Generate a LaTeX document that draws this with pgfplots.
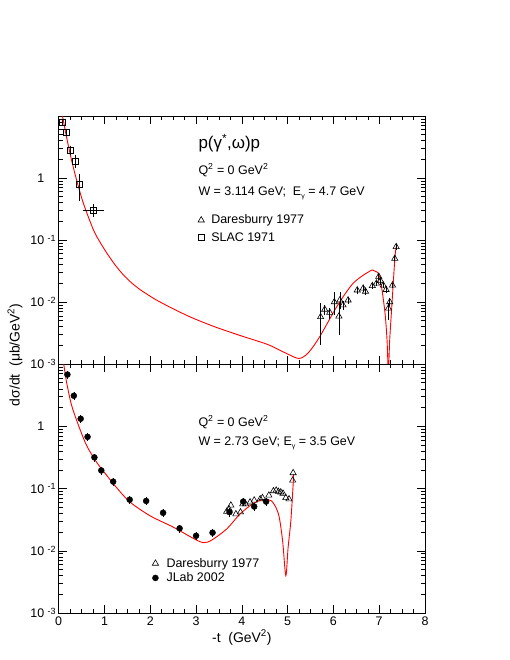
\documentclass[border=0pt]{standalone}
\usepackage{pgfplots}
\pgfplotsset{compat=1.18}
\usepackage{pgfplotstable}
\usepackage{fontspec}
\setmainfont{Liberation Sans}

% ROOT-like exponent labels: "10" with a raised exponent hanging to the right
\newcommand\tp[1]{10\rlap{\hspace{3.5bp}\raisebox{0.55ex}{\fontsize{9}{10}\selectfont #1}}\hspace{3bp}}

\pgfplotstableread{
x y ep em
5.72 0.00575 0.0040 0.0037
5.81 0.00759 0.0015 0.0015
5.92 0.00676 0.0012 0.0015
6.02 0.0100 0.0045 0.0038
6.12 0.00589 0.0036 0.0029
6.14 0.0107 0.0038 0.0031
6.21 0.0089 0.0015 0.0015
6.32 0.0107 0.0015 0.0015
6.52 0.0155 0.002 0.002
6.65 0.0166 0.002 0.002
6.70 0.0148 0.002 0.002
6.85 0.0182 0.002 0.002
6.94 0.0200 0.002 0.002
6.99 0.0257 0.003 0.003
7.03 0.0219 0.003 0.003
7.09 0.0186 0.002 0.002
7.15 0.0158 0.002 0.002
7.20 0.0079 0.0016 0.0028
7.23 0.0100 0.0015 0.0015
7.29 0.0186 0.002 0.002
7.34 0.0501 0.005 0.005
7.37 0.0776 0.008 0.008
}\daresTop

\pgfplotstableread{
x y ex ep em
0.08 7.9 0 0.8 0.8
0.16 5.4 0 0.6 0.6
0.26 2.75 0 0.56 0.41
0.36 1.88 0 0.45 0.45
0.46 0.79 0 0.37 0.37
0.76 0.297 0.235 0.083 0.063
}\slac

\pgfplotstableread{
x y
0.08 10.0
0.10 8.61
0.17 4.63
0.28 1.95
0.39 0.933
0.54 0.389
0.76 0.145
0.90 0.093
1.05 0.0617
1.23 0.0398
1.41 0.0275
1.59 0.0204
1.78 0.0158
1.92 0.0135
2.14 0.0107
2.50 0.00776
2.87 0.00575
3.23 0.00447
3.52 0.00372
4.00 0.00282
4.30 0.00240
4.61 0.00200
5.00 0.00145
5.25 0.00123
5.45 0.00151
5.70 0.00275
6.07 0.00832
6.43 0.0200
6.80 0.0316
6.90 0.0316
7.01 0.0257
7.12 0.00741
7.17 0.00251
7.20 0.00079
7.23 0.00251
7.27 0.00741
7.34 0.0479
7.37 0.0776
}\curveTop

\pgfplotstableread{
x y
3.67 0.0427
3.72 0.0468
3.76 0.0537
3.87 0.0389
3.97 0.0417
4.02 0.0562
4.08 0.0562
4.18 0.0603
4.27 0.0646
4.40 0.0676
4.45 0.0708
4.59 0.0776
4.69 0.0912
4.75 0.0933
4.80 0.0891
4.85 0.0871
4.90 0.0832
4.96 0.0708
5.03 0.0676
5.11 0.135
5.12 0.178
}\daresBot

\pgfplotstableread{
x y ey
0.19 6.76 1.0
0.33 3.09 0.45
0.48 1.32 0.2
0.63 0.676 0.1
0.78 0.316 0.047
0.93 0.195 0.029
1.19 0.129 0.019
1.55 0.0661 0.010
1.91 0.0631 0.0095
2.28 0.0407 0.0061
2.64 0.0229 0.0034
3.00 0.0174 0.0026
3.36 0.0195 0.0029
3.73 0.0417 0.0063
4.03 0.0617 0.0093
4.27 0.0513 0.0077
4.53 0.0617 0.0093
}\jlab

\pgfplotstableread{
x y
0.11 10.0
0.17 5.19
0.28 2.19
0.43 1.047
0.61 0.490
0.83 0.263
1.05 0.162
1.27 0.102
1.56 0.0603
2.00 0.0363
2.50 0.0240
2.94 0.0158
3.16 0.0135
3.34 0.0148
3.67 0.0224
3.96 0.0389
4.25 0.0575
4.47 0.0661
4.65 0.0631
4.80 0.0389
4.89 0.0145
4.96 0.00398
5.01 0.0112
5.07 0.0302
5.12 0.115
5.13 0.17
}\curveBot

\begin{document}
\begin{tikzpicture}
\path[use as bounding box] (0,0) rectangle (510bp,660bp);

% upper panel
\begin{axis}[
  at={(58.7bp,296bp)}, anchor=south west,
  scale only axis, width=366.3bp, height=248bp,
  xmin=0, xmax=8, ymode=log, ymin=1e-3, ymax=10,
  xtick={0,...,8}, minor x tick num=3, xticklabels={},
  ytick={1e-3,1e-2,1e-1,1,10},
  yticklabels={\tp{-3},\tp{-2},\tp{-1},1,{}},
  yticklabel style={xshift=-11bp},
  major tick length=8bp, minor tick length=4bp,
  tick style={black, line width=0.5pt},
  axis line style={line width=0.7pt},
  tick label style={font=\fontsize{12.5}{14}\selectfont},
  legend cell align=left,
  legend style={at={(0.38,0.61)}, anchor=north west, draw=none, fill=none,
    font=\fontsize{12.5}{14}\selectfont, nodes={font=\fontsize{12.5}{14}\selectfont},
    row sep=3bp, column sep=5bp, inner sep=0pt}]
\addplot[red, line width=0.9pt, no marks, smooth, tension=0.5, forget plot] table {\curveTop};
\addplot[only marks, mark=triangle, mark size=3.6bp, black, mark options={line width=0.6pt, fill=white},
  error bars/.cd, y dir=both, y explicit, error mark=none,
  error bar style={black, line width=0.6pt}]
  table[x=x, y=y, y error plus=ep, y error minus=em] {\daresTop};
\addlegendentry{Daresburry 1977}
\addplot[only marks, mark=square, mark size=3bp, black, mark options={line width=0.6pt, fill=white},
  error bars/.cd, y dir=both, y explicit, x dir=both, x explicit, error mark=none,
  error bar style={black, line width=0.6pt}]
  table[x=x, y=y, x error=ex, y error plus=ep, y error minus=em] {\slac};
\addlegendentry{SLAC 1971}
\end{axis}

% lower panel
\begin{axis}[
  at={(58.7bp,47bp)}, anchor=south west,
  scale only axis, width=366.3bp, height=249bp,
  xmin=0, xmax=8, ymode=log, ymin=1e-3, ymax=10,
  xtick={0,...,8}, minor x tick num=3,
  ytick={1e-3,1e-2,1e-1,1,10},
  yticklabels={\tp{-3},\tp{-2},\tp{-1},1,{}},
  yticklabel style={xshift=-11bp},
  major tick length=8bp, minor tick length=4bp,
  tick style={black, line width=0.5pt},
  axis line style={line width=0.7pt},
  tick label style={font=\fontsize{12.5}{14}\selectfont},
  /pgf/number format/assume math mode=true,
  xlabel={-t\ \ (GeV\textsuperscript{2})},
  xlabel style={font=\fontsize{14}{16}\selectfont, yshift=2bp},
  legend cell align=left,
  legend style={at={(0.255,0.229)}, anchor=north west, draw=none, fill=none,
    font=\fontsize{12.5}{14}\selectfont, nodes={font=\fontsize{12.5}{14}\selectfont},
    row sep=0bp, column sep=6bp, inner sep=0pt}]
\addplot[red, line width=0.9pt, no marks, smooth, tension=0.5, forget plot] table {\curveBot};
\addplot[only marks, mark=triangle, mark size=3.6bp, black, mark options={line width=0.6pt, fill=white}]
  table {\daresBot};
\addlegendentry{Daresburry 1977}
\addplot[only marks, mark=*, mark size=3bp, black,
  error bars/.cd, y dir=both, y explicit, error mark=none,
  error bar style={black, line width=0.6pt}]
  table[x=x, y=y, y error=ey] {\jlab};
\addlegendentry{JLab 2002}
\end{axis}

% annotations
\node[anchor=west, font=\fontsize{17}{20}\selectfont] at (195bp,517bp) {p(γ\textsuperscript{*},ω)p};
\node[anchor=west, font=\fontsize{12.5}{14}\selectfont] at (195bp,490bp) {Q\textsuperscript{2} = 0 GeV\textsuperscript{2}};
\node[anchor=west, font=\fontsize{12.5}{14}\selectfont] at (195bp,467bp) {W = 3.114 GeV;\ \ E\raisebox{-0.45ex}{\scriptsize γ} = 4.7 GeV};
\node[anchor=west, font=\fontsize{12.5}{14}\selectfont] at (195bp,238bp) {Q\textsuperscript{2} = 0 GeV\textsuperscript{2}};
\node[anchor=west, font=\fontsize{12.5}{14}\selectfont] at (195bp,217bp) {W = 2.73 GeV; E\raisebox{-0.45ex}{\scriptsize γ} = 3.5 GeV};
\node[rotate=90, font=\fontsize{14}{16}\selectfont] at (15bp,305bp) {dσ/dt\ \ (μb/GeV\textsuperscript{2})};
\end{tikzpicture}
\end{document}
